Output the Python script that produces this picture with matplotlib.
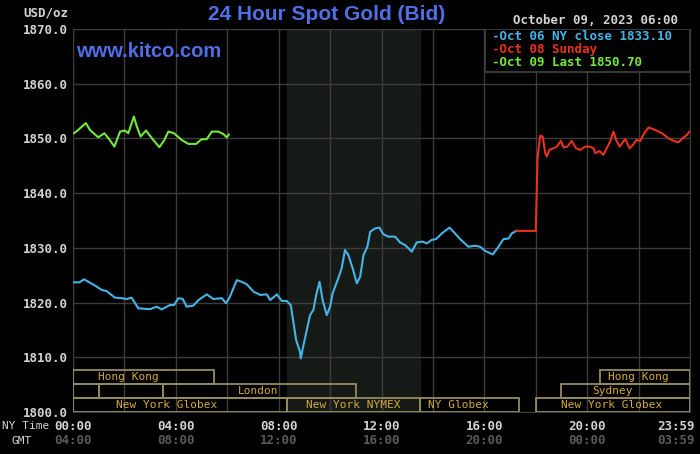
import matplotlib
matplotlib.use('Agg')
import matplotlib.pyplot as plt
import matplotlib.transforms as mtransforms
from matplotlib.patches import Rectangle

# hours after midnight (NY time) and bid prices
blue_hours = [0.0, 0.25, 0.43, 0.6, 0.86, 1.12, 1.31, 1.63, 1.89, 2.09, 2.28, 2.54, 3.0, 3.26, 3.45,
              3.77, 3.93, 4.1, 4.27, 4.42, 4.68, 4.88, 5.2, 5.46, 5.79, 5.95, 6.08, 6.37, 6.56, 6.76,
              7.02, 7.28, 7.54, 7.67, 7.93, 8.12, 8.31, 8.47, 8.57, 8.68, 8.83, 8.86, 8.94, 9.22,
              9.35, 9.46, 9.59, 9.71, 9.87, 10.0, 10.1, 10.32, 10.45, 10.58, 10.71, 10.88, 11.04,
              11.17, 11.3, 11.45, 11.56, 11.75, 11.92, 12.07, 12.27, 12.53, 12.72, 12.92, 13.18,
              13.37, 13.6, 13.76, 13.95, 14.12, 14.35, 14.64, 14.8, 15.06, 15.38, 15.64, 15.84,
              16.03, 16.33, 16.55, 16.74, 16.94, 17.07, 17.24]
blue_vals = [1823.7, 1823.7, 1824.25, 1823.8, 1823.1, 1822.3, 1822.1, 1820.9, 1820.8, 1820.65, 1820.9,
             1818.95, 1818.8, 1819.25, 1818.75, 1819.55, 1819.55, 1820.8, 1820.65, 1819.25, 1819.45,
             1820.45, 1821.5, 1820.65, 1820.8, 1819.9, 1820.8, 1824.1, 1823.8, 1823.35, 1822.0,
             1821.4, 1821.5, 1820.45, 1821.5, 1820.3, 1820.3, 1819.55, 1816.5, 1813.15, 1811.0,
             1809.8, 1811.65, 1817.7, 1818.65, 1821.4, 1823.8, 1820.45, 1817.7, 1819.25, 1821.7,
             1824.45, 1826.25, 1829.6, 1828.7, 1826.25, 1823.5, 1824.75, 1828.7, 1830.2, 1832.95,
             1833.55, 1833.7, 1832.5, 1832.05, 1832.05, 1831.0, 1830.5, 1829.3, 1831.0, 1831.15,
             1830.8, 1831.45, 1831.6, 1832.65, 1833.7, 1832.95, 1831.6, 1830.2, 1830.4, 1830.2,
             1829.45, 1828.8, 1830.2, 1831.6, 1831.7, 1832.65, 1833.1]

red_hours = [17.24, 18.0, 18.04, 18.07, 18.17, 18.27, 18.37, 18.43, 18.53, 18.69, 18.82, 18.98, 19.08,
             19.23, 19.4, 19.57, 19.73, 19.92, 20.09, 20.25, 20.31, 20.48, 20.63, 20.76, 20.89,
             21.02, 21.13, 21.26, 21.48, 21.65, 21.78, 21.91, 22.06, 22.26, 22.39, 22.65, 22.91,
             23.16, 23.36, 23.55, 23.68, 23.88, 23.98]
red_vals = [1833.1, 1833.1, 1840.6, 1846.4, 1850.5, 1850.35, 1847.3, 1846.7, 1847.9, 1848.2, 1848.5,
            1849.55, 1848.35, 1848.5, 1849.55, 1848.2, 1847.9, 1848.5, 1848.5, 1848.2, 1847.3,
            1847.7, 1847.0, 1848.2, 1849.4, 1851.25, 1849.7, 1848.5, 1849.9, 1848.2, 1848.8,
            1849.7, 1849.55, 1851.25, 1852.0, 1851.55, 1850.95, 1850.05, 1849.55, 1849.3, 1849.9,
            1850.65, 1851.25]

green_hours = [0.04, 0.2, 0.5, 0.66, 0.98, 1.22, 1.41, 1.61, 1.83, 2.02, 2.15, 2.37, 2.48, 2.63, 2.84,
               3.1, 3.36, 3.54, 3.71, 3.93, 4.23, 4.49, 4.79, 5.0, 5.2, 5.4, 5.65, 5.85, 5.98, 6.06]
green_vals = [1850.95, 1851.55, 1852.8, 1851.55, 1850.2, 1850.95, 1849.85, 1848.5, 1851.25, 1851.45,
              1850.95, 1854.0, 1852.2, 1850.35, 1851.45, 1849.85, 1848.4, 1849.6, 1851.25, 1850.95,
              1849.7, 1849.0, 1849.0, 1849.85, 1849.85, 1851.25, 1851.25, 1850.8, 1850.2, 1850.7]

legend_lines = ['-Oct 06 NY close 1833.10', '-Oct 08 Sunday', '-Oct 09 Last 1850.70']

# trading sessions: (label, row, start hour, end hour, label hour)
sessions = [
    ('Hong Kong', 2, 0.0, 5.5, 2.15),
    ('', 1, 0.0, 1.0, 0),
    ('', 1, 1.0, 3.5, 0),
    ('London', 1, 3.5, 11.0, 7.2),
    ('New York Globex', 0, 0.0, 8.33, 3.65),
    ('New York NYMEX', 0, 8.33, 13.5, 10.9),
    ('NY Globex', 0, 13.5, 17.33, 15.0),
    ('New York Globex', 0, 18.0, 24.0, 20.95),
    ('Sydney', 1, 19.0, 24.0, 21.0),
    ('Hong Kong', 2, 20.5, 24.0, 22.0),
]

ny_ticks = ['00:00', '04:00', '08:00', '12:00', '16:00', '20:00']
gmt_ticks = ['04:00', '08:00', '12:00', '16:00', '20:00', '00:00']

BG = '#000000'
GRID = '#3c3c3c'
BLUE = '#45b4e6'
RED = '#e8321e'
GREEN = '#74e83c'
TITLE = '#4f6fe6'
GOLD = '#d4aa3a'
OLIVE = '#948c5c'
MONO = 'DejaVu Sans Mono'

fig = plt.figure(figsize=(7, 4.54), dpi=100, facecolor=BG)
ax = fig.add_axes([73 / 700, 42 / 454, 617 / 700, 383 / 454])
ax.set_facecolor(BG)
ax.set_xlim(0, 24)
ax.set_ylim(1800, 1870)

# NYMEX open shading
ax.axvspan(8.33, 13.5, color='#161a16', zorder=0)

ax.set_xticks(range(0, 25, 2))
ax.set_yticks(range(1800, 1871, 10))
ax.grid(True, color=GRID, lw=1, zorder=1)
for s in ax.spines.values():
    s.set_color(GRID)
ax.tick_params(length=0, labelbottom=False)
ax.set_yticklabels([f'{v:.1f}' for v in range(1800, 1871, 10)], family=MONO,
                   fontweight='bold', fontsize=9, color='#d2d2d2')

ax.plot(blue_hours, blue_vals, color=BLUE, lw=1.5, zorder=3)
ax.plot(red_hours, red_vals, color=RED, lw=1.5, zorder=3)
ax.plot(green_hours, green_vals, color=GREEN, lw=1.5, zorder=3)

# session boxes along the bottom
row_h = 2.56
for name, row, x0, x1, xl in sessions:
    y0 = 1800 + row * row_h
    ax.add_patch(Rectangle((x0, y0), x1 - x0, row_h, facecolor='none',
                           edgecolor=OLIVE, lw=1.3, zorder=4))
    if name:
        ax.text(xl, y0 + row_h / 2, name, family=MONO, fontsize=8,
                color=GOLD, ha='center', va='center', zorder=5)

# legend box
ax.add_patch(Rectangle((16.03, 1862.15), 24 - 16.03, 7.85, facecolor=BG,
                       edgecolor=GRID, lw=1.3, zorder=5))
for i, (txt, c) in enumerate(zip(legend_lines, [BLUE, RED, GREEN])):
    ax.text(16.3, 1868.7 - i * 2.45, txt, family=MONO, fontweight='bold', fontsize=9,
            color=c, ha='left', va='center', zorder=6)

# time axis labels
trans = mtransforms.blended_transform_factory(ax.transData, fig.transFigure)
for i, (ny, gmt) in enumerate(zip(ny_ticks, gmt_ticks)):
    ax.text(i * 4, 1 - 426 / 454, ny, transform=trans, family=MONO, fontweight='bold',
            fontsize=9, color='#d2d2d2', ha='center', va='center')
    ax.text(i * 4, 1 - 441 / 454, gmt, transform=trans, family=MONO, fontweight='bold',
            fontsize=9, color='#5a5a5a', ha='center', va='center')
fig.text(695 / 700, 1 - 426 / 454, '23:59', family=MONO, fontweight='bold', fontsize=9,
         color='#d2d2d2', ha='right', va='center')
fig.text(695 / 700, 1 - 441 / 454, '03:59', family=MONO, fontweight='bold', fontsize=9,
         color='#5a5a5a', ha='right', va='center')
fig.text(2 / 700, 1 - 426 / 454, 'NY Time', family=MONO, fontsize=8, color='#d2d2d2',
         ha='left', va='center')
fig.text(12 / 700, 1 - 441 / 454, 'GMT', family=MONO, fontsize=8, color='#d2d2d2',
         ha='left', va='center')

fig.text(68 / 700, 1 - 13 / 454, 'USD/oz', family=MONO, fontweight='bold', fontsize=9,
         color='#d2d2d2', ha='right', va='center')
fig.text(327 / 700, 1 - 15 / 454, '24 Hour Spot Gold (Bid)', family='Liberation Sans',
         fontweight='bold', fontsize=15, color=TITLE, ha='center', va='center')
fig.text(678 / 700, 1 - 20 / 454, 'October 09, 2023 06:00', family=MONO, fontweight='bold',
         fontsize=9, color='#d2d2d2', ha='right', va='center')
ax.text(0.1, 1865.8, 'www.kitco.com', family='Liberation Sans', fontweight='bold',
        fontsize=14.5, color=TITLE, ha='left', va='center', zorder=6)

fig.savefig('out.png', dpi=100, facecolor=BG)
